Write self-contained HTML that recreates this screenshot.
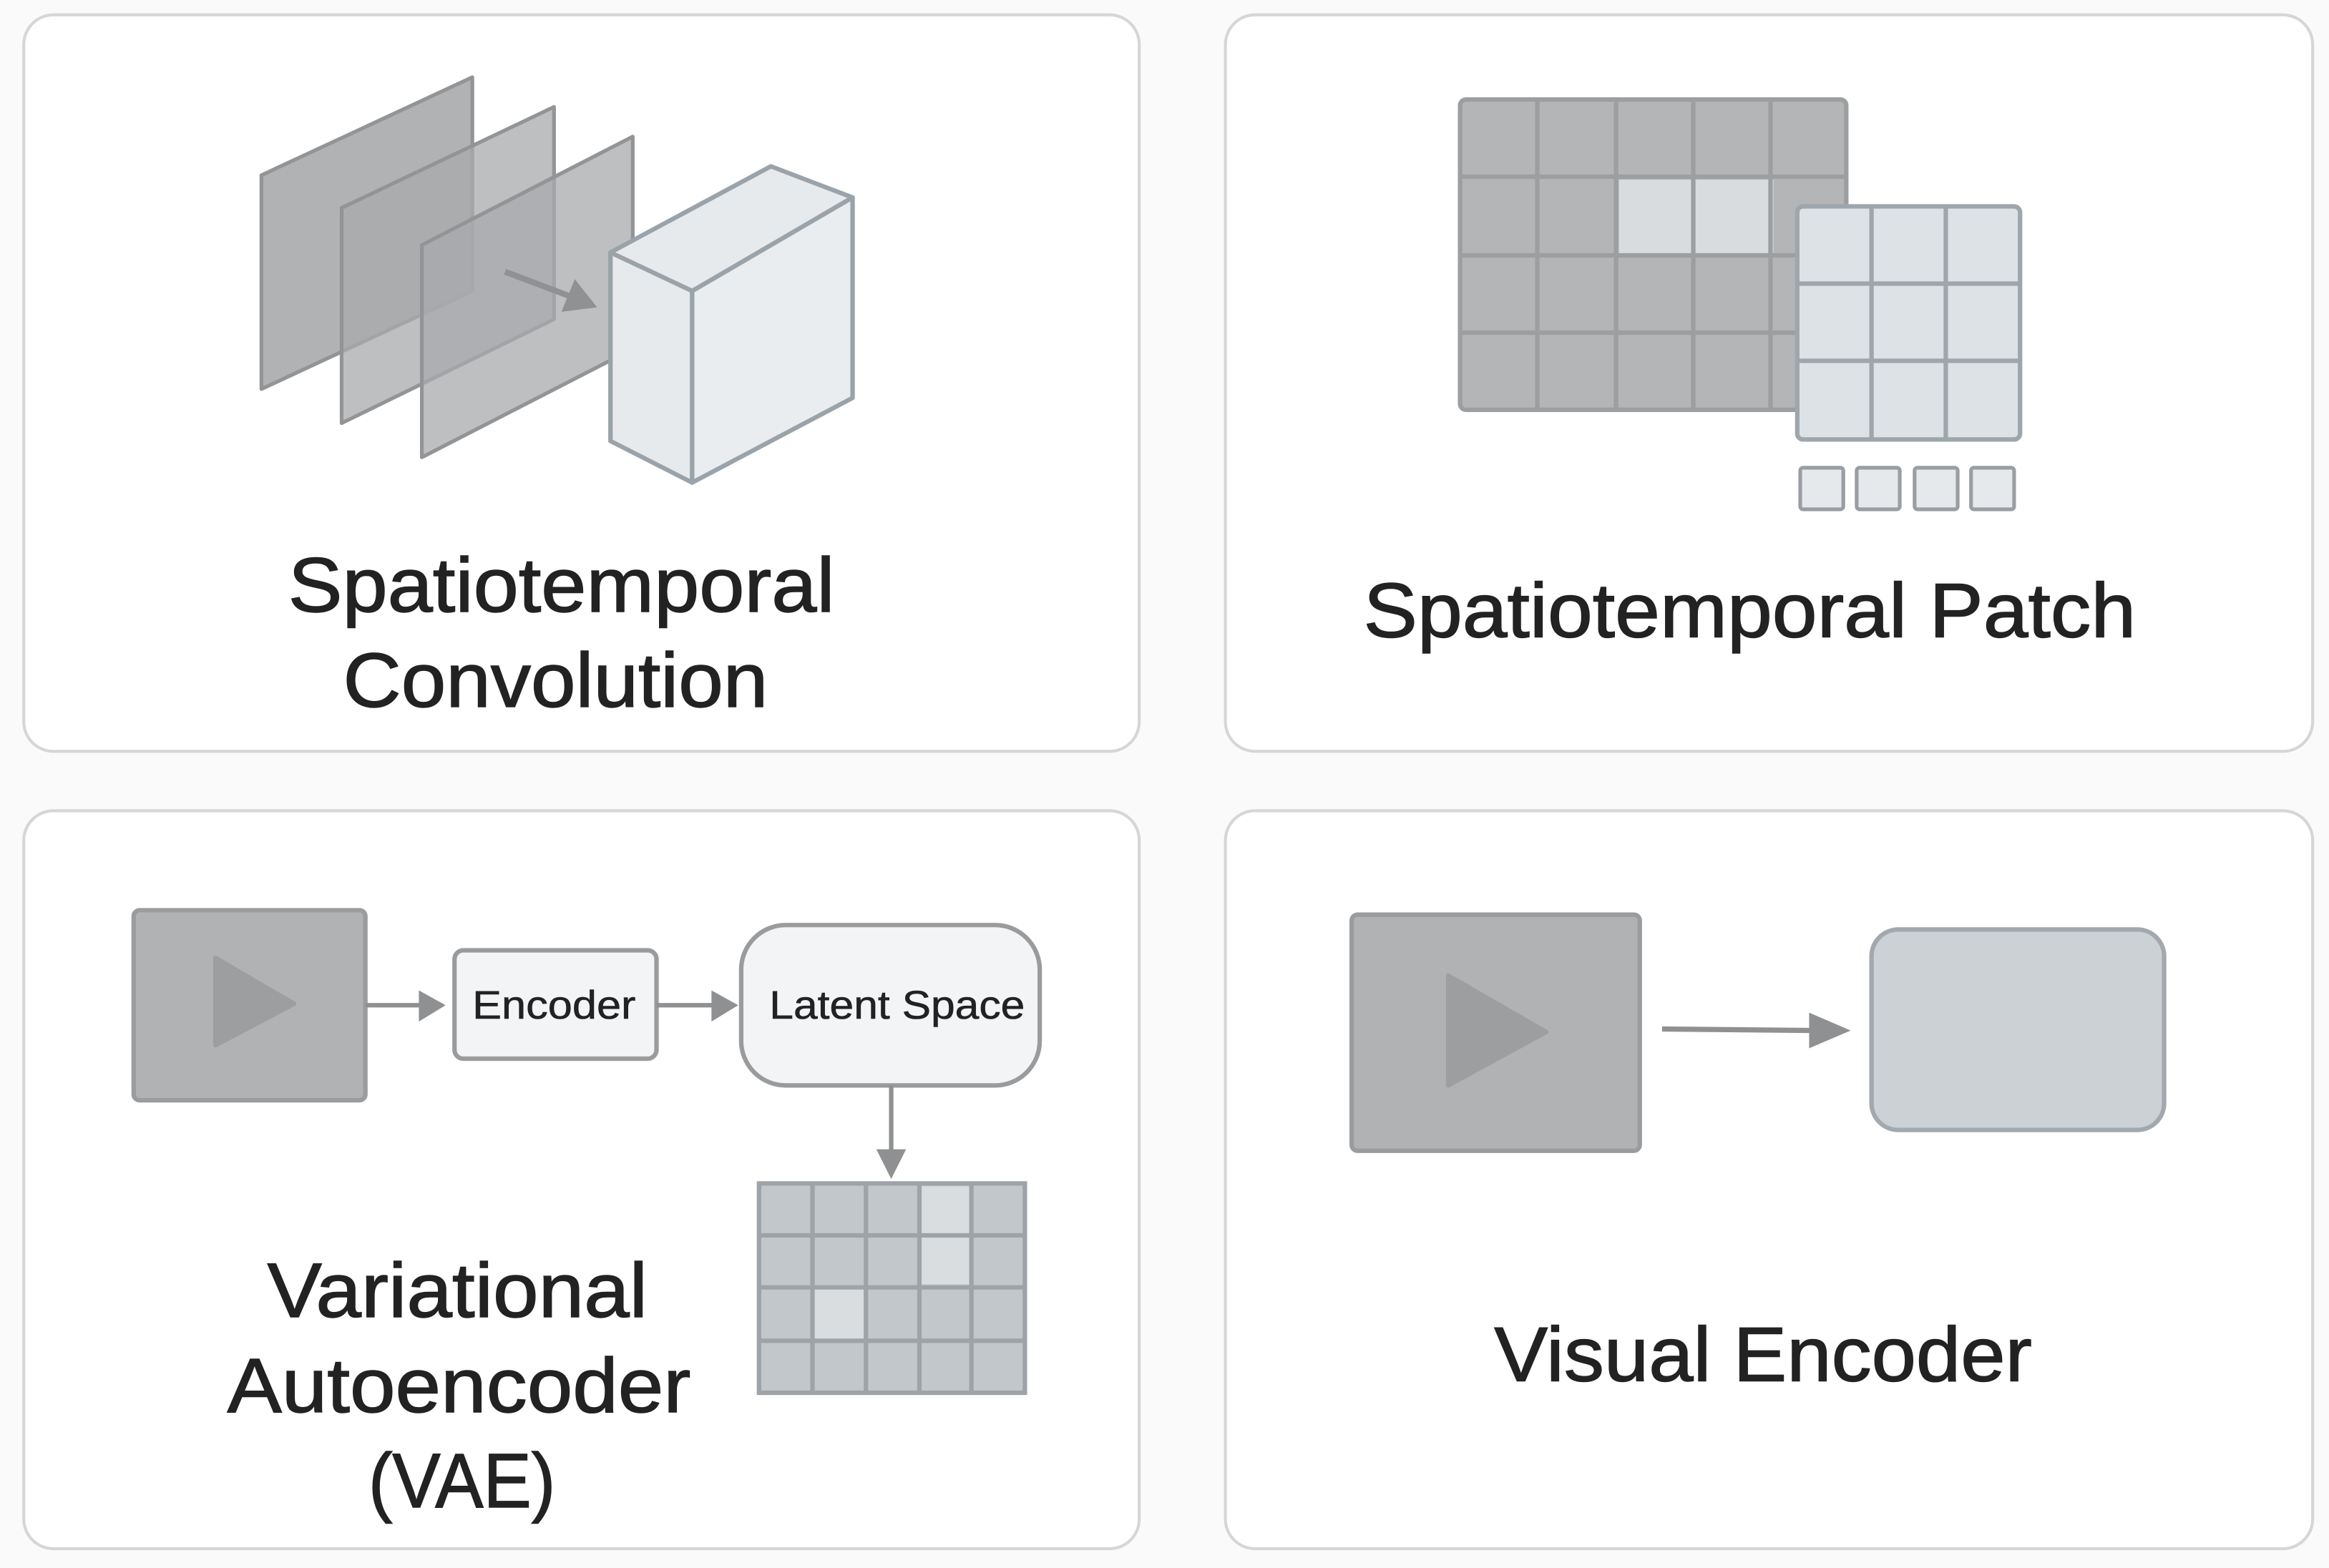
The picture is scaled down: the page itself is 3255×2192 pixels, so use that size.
<!DOCTYPE html>
<html><head><meta charset="utf-8"><style>
html,body{margin:0;padding:0;background:#fafafa;}
svg{display:block;}
text{font-family:"Liberation Sans","DejaVu Sans",sans-serif;fill:#222;stroke:#222;stroke-width:0.7;}
</style></head><body>
<svg width="3255" height="2192" viewBox="0 0 1568 1056" preserveAspectRatio="none" xmlns="http://www.w3.org/2000/svg">
<rect x="0" y="0" width="1568" height="1056" fill="#fafafa"/>
<g fill="#fff" stroke="#d6d6d6" stroke-width="2">
<rect x="16" y="10" width="751" height="496" rx="20"/>
<rect x="825" y="10" width="732" height="496" rx="20"/>
<rect x="16" y="546" width="751" height="497" rx="20"/>
<rect x="825" y="546" width="732" height="497" rx="20"/>
</g>
<!-- TL -->
<g stroke="#929496" stroke-width="2.5" stroke-linejoin="round">
<polygon points="176,118 318,52 318,196 176,262" fill="#a8aaac" fill-opacity="0.9"/>
<polygon points="230,140 373,72 373,215 230,285" fill="#a8aaac" fill-opacity="0.75"/>
<polygon points="284,165 426,92 426,235 284,308" fill="#a8aaac" fill-opacity="0.75"/>
</g>
<line x1="340" y1="183" x2="385" y2="200" stroke="#8f9193" stroke-width="4"/>
<polygon points="402,207 378,210 387,188" fill="#8f9193"/>
<g stroke="#9aa3a9" stroke-width="3" stroke-linejoin="round" fill="#e6eaed">
<polygon points="411,170 519,112 574,133 466,196"/>
<polygon points="411,170 466,196 466,325 411,297"/>
<polygon points="466,196 574,133 574,268 466,325" fill="#e9edf0"/>
</g>
<text x="194" y="412" font-size="52" textLength="368" lengthAdjust="spacingAndGlyphs">Spatiotemporal</text>
<text x="231" y="476" font-size="52" textLength="286" lengthAdjust="spacingAndGlyphs">Convolution</text>
<!-- TR -->
<rect x="983" y="67" width="260" height="209" rx="4" fill="#b3b5b7" stroke="#9c9ea0" stroke-width="3"/>
<rect x="1090" y="121" width="104" height="52" fill="#d8dcdf"/>
<g stroke="#9c9ea0" stroke-width="3">
<line x1="1035" y1="67" x2="1035" y2="276"/><line x1="1088" y1="67" x2="1088" y2="276"/>
<line x1="1140" y1="67" x2="1140" y2="276"/><line x1="1192" y1="67" x2="1192" y2="276"/>
<line x1="983" y1="119" x2="1243" y2="119"/><line x1="983" y1="172" x2="1243" y2="172"/>
<line x1="983" y1="224" x2="1243" y2="224"/>
</g>
<rect x="1210" y="139" width="150" height="157" rx="4" fill="#dde2e6" stroke="#9fa6ab" stroke-width="3"/>
<g stroke="#9fa6ab" stroke-width="3">
<line x1="1260" y1="139" x2="1260" y2="296"/><line x1="1310" y1="139" x2="1310" y2="296"/>
<line x1="1210" y1="191" x2="1360" y2="191"/><line x1="1210" y1="243" x2="1360" y2="243"/>
</g>
<g fill="#e6e9ec" stroke="#9a9ea2" stroke-width="2.5">
<rect x="1212" y="315" width="29" height="28" rx="2"/>
<rect x="1250" y="315" width="29" height="28" rx="2"/>
<rect x="1289" y="315" width="29" height="28" rx="2"/>
<rect x="1327" y="315" width="29" height="28" rx="2"/>
</g>
<text x="918" y="429" font-size="52" textLength="520" lengthAdjust="spacingAndGlyphs">Spatiotemporal Patch</text>
<!-- BL -->
<rect x="90" y="613" width="156" height="128" rx="4" fill="#b0b2b4" stroke="#9a9c9e" stroke-width="3"/>
<polygon points="145,645 198,676 145,704" fill="#9c9ea0" stroke="#9c9ea0" stroke-width="3" stroke-linejoin="round"/>
<line x1="246" y1="677" x2="284" y2="677" stroke="#8e9092" stroke-width="3"/>
<polygon points="300,677 282,667 282,688" fill="#8e9092"/>
<rect x="306" y="640" width="136" height="73" rx="6" fill="#f3f4f5" stroke="#999b9d" stroke-width="3"/>
<text x="318" y="686" font-size="27" textLength="110" lengthAdjust="spacingAndGlyphs" style="stroke-width:0.3">Encoder</text>
<line x1="442" y1="677" x2="480" y2="677" stroke="#8e9092" stroke-width="3"/>
<polygon points="497,677 479,667 479,688" fill="#8e9092"/>
<rect x="499" y="623" width="201" height="108" rx="30" fill="#f3f4f5" stroke="#999b9d" stroke-width="3"/>
<text x="518" y="686" font-size="27" textLength="172" lengthAdjust="spacingAndGlyphs" style="stroke-width:0.3">Latent Space</text>
<line x1="600" y1="731" x2="600" y2="778" stroke="#8e9092" stroke-width="3"/>
<polygon points="600,794 590,774 610,774" fill="#8e9092"/>
<rect x="511" y="797" width="179" height="141" fill="#c2c7cb" stroke="#9ea3a7" stroke-width="3"/>
<rect x="620" y="799" width="34" height="66" fill="#d9dde0"/>
<rect x="548" y="868" width="35" height="34" fill="#d9dde0"/>
<g stroke="#9ea3a7" stroke-width="3">
<line x1="547" y1="797" x2="547" y2="938"/><line x1="583" y1="797" x2="583" y2="938"/>
<line x1="619" y1="797" x2="619" y2="938"/><line x1="654" y1="797" x2="654" y2="938"/>
<line x1="511" y1="832" x2="690" y2="832"/><line x1="511" y1="867" x2="690" y2="867"/>
<line x1="511" y1="903" x2="690" y2="903"/>
</g>
<text x="180" y="887" font-size="52" textLength="256" lengthAdjust="spacingAndGlyphs">Variational</text>
<text x="153" y="951" font-size="52" textLength="312" lengthAdjust="spacingAndGlyphs">Autoencoder</text>
<text x="248" y="1015" font-size="52" textLength="126" lengthAdjust="spacingAndGlyphs">(VAE)</text>
<!-- BR -->
<rect x="910" y="616" width="194" height="159" rx="4" fill="#b0b2b4" stroke="#9a9c9e" stroke-width="3"/>
<polygon points="975,657 1041,695 975,731" fill="#9c9ea0" stroke="#9c9ea0" stroke-width="3" stroke-linejoin="round"/>
<line x1="1119" y1="693" x2="1222" y2="694" stroke="#8e9092" stroke-width="3.5"/>
<polygon points="1246,694 1218,682 1218,706" fill="#8e9092"/>
<rect x="1260" y="626" width="197" height="135" rx="18" fill="#ccd1d5" stroke="#a2a8ad" stroke-width="3"/>
<text x="1006" y="930" font-size="52" textLength="362" lengthAdjust="spacingAndGlyphs">Visual Encoder</text>
</svg>
</body></html>
